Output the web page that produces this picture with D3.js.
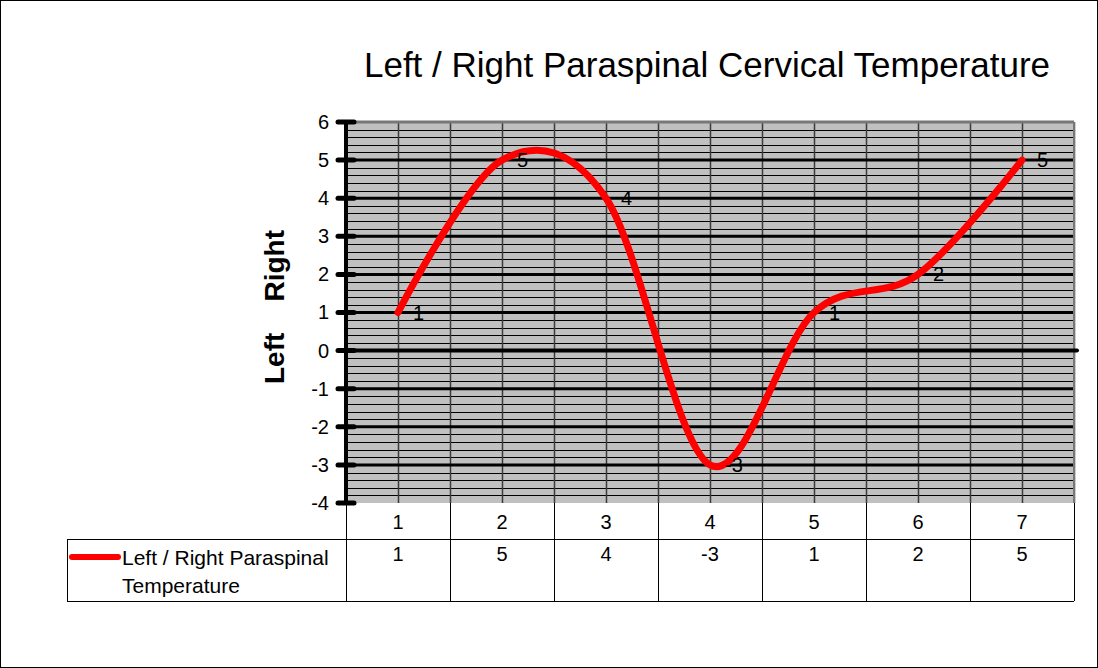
<!DOCTYPE html>
<html>
<head>
<meta charset="utf-8">
<script src="https://cdn.jsdelivr.net/npm/d3@7"></script>
<style>
  body { margin: 0; background: #fff; }
  svg text { font-family: Arial, "Liberation Sans", sans-serif; }
</style>
</head>
<body>
<div id="chart"></div>
<script>
var categories = ["1", "2", "3", "4", "5", "6", "7"];
var values = [1, 5, 4, -3, 1, 2, 5];
var seriesName = ["Left / Right Paraspinal", "Temperature"];
var yTicks = [-4, -3, -2, -1, 0, 1, 2, 3, 4, 5, 6];
var chartTitle = "Left / Right Paraspinal Cervical Temperature";
var yTitle = "Left    Right";

var width = 1098;
var height = 668;
var plot = { left: 346, right: 1074, top: 122, bottom: 503 };
var tableRow1 = 539;
var tableBottom = 601;
var tableLeft = 67;

var svg = d3
  .select("#chart")
  .append("svg")
  .attr("width", width)
  .attr("height", height);

// outer frame
svg
  .append("rect")
  .attr("x", 0.5)
  .attr("y", 0.5)
  .attr("width", width - 1)
  .attr("height", height - 1)
  .attr("fill", "#fff")
  .attr("stroke", "#000");

var x = d3
  .scaleBand()
  .domain(categories)
  .range([plot.left, plot.right]);
var y = d3
  .scaleLinear()
  .domain([-4, 6])
  .range([plot.bottom, plot.top]);

svg
  .append("text")
  .attr("x", 707)
  .attr("y", 77)
  .attr("text-anchor", "middle")
  .attr("font-size", 35)
  .text(chartTitle);

// plot background
svg
  .append("rect")
  .attr("x", plot.left)
  .attr("y", plot.top)
  .attr("width", plot.right - plot.left)
  .attr("height", plot.bottom - plot.top)
  .attr("fill", "#c0c0c0");

// minor horizontal grid
var minor = d3.range(-4, 6.001, 0.2).filter(function(v) {
  return Math.abs(v - Math.round(v)) > 0.01;
});
svg
  .append("g")
  .selectAll("line")
  .data(minor)
  .enter()
  .append("line")
  .attr("x1", plot.left)
  .attr("x2", plot.right)
  .attr("y1", function(d) { return Math.round(y(d)) + 0.5; })
  .attr("y2", function(d) { return Math.round(y(d)) + 0.5; })
  .attr("stroke", "#000")
  .attr("stroke-width", 1);

// vertical grid at band edges and centres
var vlines = [];
categories.forEach(function(c) {
  vlines.push(x(c));
  vlines.push(x(c) + x.bandwidth() / 2);
});
vlines.push(plot.right);
svg
  .append("g")
  .selectAll("line")
  .data(vlines.slice(1))
  .enter()
  .append("line")
  .attr("x1", function(d) { return Math.round(d) + 0.5; })
  .attr("x2", function(d) { return Math.round(d) + 0.5; })
  .attr("y1", plot.top)
  .attr("y2", plot.bottom)
  .attr("stroke", "#3a3a3a")
  .attr("stroke-width", 1.5);

// major horizontal grid
svg
  .append("g")
  .selectAll("line")
  .data(yTicks.filter(function(d) { return d !== -4 && d !== 0; }))
  .enter()
  .append("line")
  .attr("x1", plot.left)
  .attr("x2", plot.right)
  .attr("y1", function(d) { return y(d); })
  .attr("y2", function(d) { return y(d); })
  .attr("stroke", function(d) { return d === 6 ? "#777" : "#000"; })
  .attr("stroke-width", 3);

// plot right border
svg
  .append("line")
  .attr("x1", plot.right)
  .attr("x2", plot.right)
  .attr("y1", plot.top)
  .attr("y2", plot.bottom)
  .attr("stroke", "#777")
  .attr("stroke-width", 2);

// zero line
svg
  .append("line")
  .attr("x1", plot.left)
  .attr("x2", plot.right + 3)
  .attr("y1", y(0))
  .attr("y2", y(0))
  .attr("stroke", "#000")
  .attr("stroke-width", 4)
  .attr("stroke-linecap", "round");

// y axis
svg
  .append("line")
  .attr("x1", plot.left)
  .attr("x2", plot.left)
  .attr("y1", plot.top)
  .attr("y2", plot.bottom)
  .attr("stroke", "#000")
  .attr("stroke-width", 4);
svg
  .append("g")
  .selectAll("line")
  .data(yTicks)
  .enter()
  .append("line")
  .attr("x1", plot.left - 8)
  .attr("x2", plot.left + 8)
  .attr("y1", function(d) { return y(d); })
  .attr("y2", function(d) { return y(d); })
  .attr("stroke", "#000")
  .attr("stroke-width", 5)
  .attr("stroke-linecap", "round");

var yAxis = svg
  .append("g")
  .attr("transform", "translate(" + (plot.left - 17) + ",0)")
  .call(
    d3.axisLeft(y)
      .tickValues(yTicks)
      .tickSize(0)
      .tickPadding(0)
      .tickFormat(function(d) { return String(d); })
  );
yAxis.select(".domain").remove();
yAxis
  .selectAll("text")
  .attr("font-size", 20)
  .attr("font-family", "Arial, 'Liberation Sans', sans-serif")
  .attr("fill", "#000");

svg
  .append("text")
  .attr("transform", "translate(284," + 307 + ") rotate(-90)")
  .attr("text-anchor", "middle")
  .attr("font-size", 28)
  .attr("font-weight", "bold")
  .style("white-space", "pre")
  .text(yTitle);

// data line
var line = d3
  .line()
  .x(function(d, i) { return x(categories[i]) + x.bandwidth() / 2; })
  .y(function(d) { return y(d); })
  .curve(d3.curveCardinal.tension(0));

svg
  .append("path")
  .datum(values)
  .attr("d", line)
  .attr("fill", "none")
  .attr("stroke", "#ff0000")
  .attr("stroke-width", 7)
  .attr("stroke-linecap", "round")
  .attr("stroke-linejoin", "round");

// data labels
svg
  .append("g")
  .selectAll("text")
  .data(values)
  .enter()
  .append("text")
  .attr("x", function(d, i) { return x(categories[i]) + x.bandwidth() / 2 + 15; })
  .attr("y", function(d) { return y(d) + 7; })
  .attr("font-size", 20)
  .text(function(d) { return d; });

// data table
var table = svg.append("g").attr("stroke", "#000").attr("stroke-width", 1);
table
  .append("line")
  .attr("x1", tableLeft)
  .attr("x2", plot.right)
  .attr("y1", tableRow1 + 0.5)
  .attr("y2", tableRow1 + 0.5);
table
  .append("line")
  .attr("x1", tableLeft)
  .attr("x2", plot.right)
  .attr("y1", tableBottom + 0.5)
  .attr("y2", tableBottom + 0.5);
table
  .append("line")
  .attr("x1", tableLeft + 0.5)
  .attr("x2", tableLeft + 0.5)
  .attr("y1", tableRow1)
  .attr("y2", tableBottom);
table
  .selectAll("line.col")
  .data(categories.map(function(c) { return x(c); }).concat([plot.right]))
  .enter()
  .append("line")
  .attr("class", "col")
  .attr("x1", function(d) { return Math.round(d) + 0.5; })
  .attr("x2", function(d) { return Math.round(d) + 0.5; })
  .attr("y1", plot.bottom)
  .attr("y2", tableBottom);

svg
  .append("g")
  .selectAll("text")
  .data(categories)
  .enter()
  .append("text")
  .attr("x", function(d) { return x(d) + x.bandwidth() / 2; })
  .attr("y", 529)
  .attr("text-anchor", "middle")
  .attr("font-size", 20)
  .text(function(d) { return d; });

svg
  .append("g")
  .selectAll("text")
  .data(values)
  .enter()
  .append("text")
  .attr("x", function(d, i) { return x(categories[i]) + x.bandwidth() / 2; })
  .attr("y", 561)
  .attr("text-anchor", "middle")
  .attr("font-size", 20)
  .text(function(d) { return d; });

// legend key
svg
  .append("line")
  .attr("x1", 72)
  .attr("x2", 118)
  .attr("y1", 557)
  .attr("y2", 557)
  .attr("stroke", "#ff0000")
  .attr("stroke-width", 6)
  .attr("stroke-linecap", "round");
svg
  .append("text")
  .attr("font-size", 21)
  .selectAll("tspan")
  .data(seriesName)
  .enter()
  .append("tspan")
  .attr("x", 122)
  .attr("y", function(d, i) { return 565 + i * 28; })
  .text(function(d) { return d; });
</script>
</body>
</html>
